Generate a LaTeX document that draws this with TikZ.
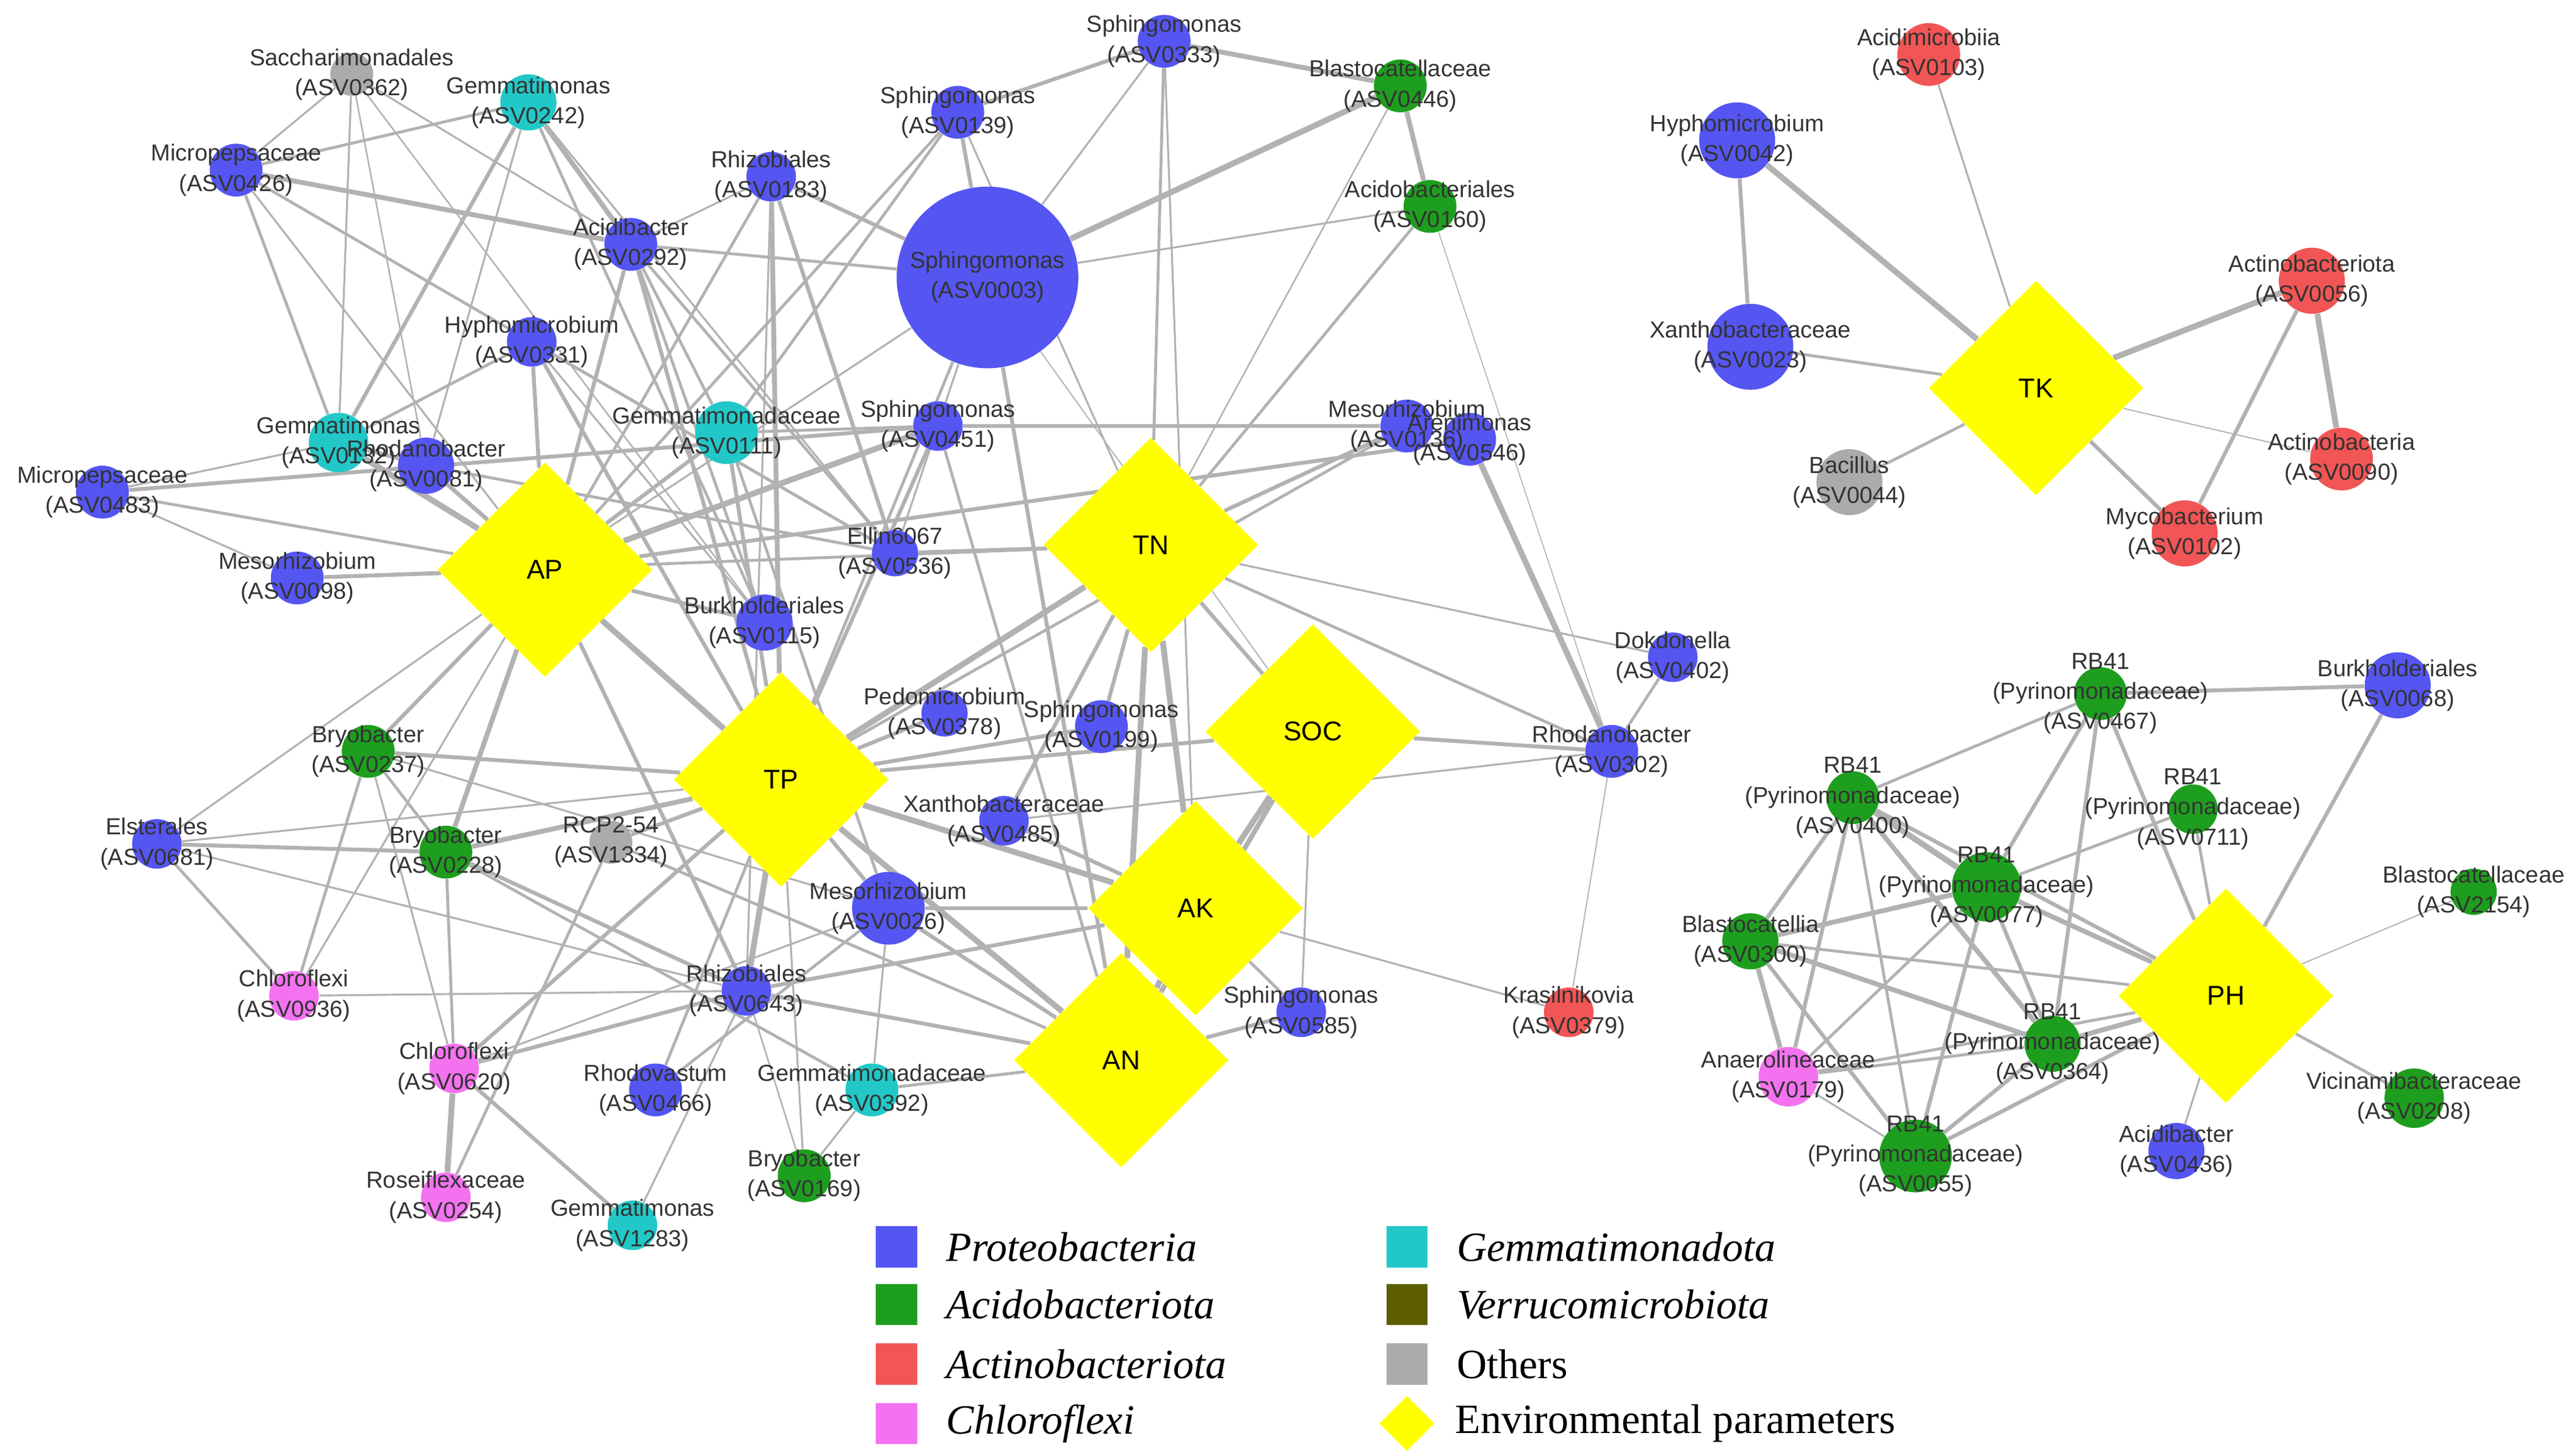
\documentclass[tikz,border=0pt]{standalone}
\usepackage{fontspec}
\setmainfont{Liberation Serif}
\newfontfamily\lab{Liberation Sans}
\usetikzlibrary{shapes.geometric,backgrounds}
\definecolor{proteo}{HTML}{5555F2}
\definecolor{acido}{HTML}{1E9E1E}
\definecolor{actino}{HTML}{F25555}
\definecolor{chloro}{HTML}{F472F0}
\definecolor{gemma}{HTML}{22C8C8}
\definecolor{verru}{HTML}{5E5E00}
\definecolor{other}{HTML}{ABABAB}
\definecolor{envi}{HTML}{FFFF00}
\tikzset{
  tax/.style={circle,draw=none,inner sep=0pt,minimum size=#1},
  tax/.default=28,
  env/.style={diamond,fill=envi,inner sep=0pt,minimum size=130*0.3mm,font=\lab\fontsize{14}{16}\selectfont},
  lbl/.style={align=center,font=\lab\fontsize{12}{15.5}\selectfont,text=black!80,inner sep=0pt},
  edge/.style={draw=black!30},
  key/.style={minimum size=7.5mm,inner sep=0pt},
  keytext/.style={anchor=west,font=\fontsize{21.5}{25}\selectfont}
}
\begin{document}
\begin{tikzpicture}[x=0.3mm,y=-0.3mm]
\useasboundingbox (0,0) rectangle (1560,881);
% taxa: name / x / y / colour / size
\foreach \n/\x/\y/\c/\s in {
  s0362/213/45/other/26, g0242/320/62/gemma/34, m0426/143/103/proteo/32,
  r0183/467/107/proteo/30, s0139/580/68/proteo/32, s0333/705/25/proteo/32,
  b0446/848/52/acido/32, a0160/866/125/acido/32, a0292/382/148/proteo/32,
  h0331/322/207/proteo/30, g0132/205/268/gemma/36, r0081/258/282/proteo/34,
  g0111/440/262/gemma/38, s0451/568/258/proteo/30, m0136/852/258/proteo/32,
  a0546/890/266/proteo/32, m0483/62/298/proteo/32, m0098/180/350/proteo/32,
  e0536/542/335/proteo/28, b0115/463/377/proteo/34, d0402/1013/398/proteo/30,
  r0302/976/455/proteo/32, p0378/572/432/proteo/28, s0199/667/440/proteo/32,
  b0237/223/455/acido/32, x0485/608/497/proteo/30, e0681/95/511/proteo/30,
  b0228/270/516/acido/32, r1334/370/510/other/26, m0026/538/550/proteo/44,
  c0936/178/603/chloro/30, r0643/452/600/proteo/30, s0585/788/613/proteo/30,
  k0379/950/613/actino/30, c0620/275/647/chloro/30, r0466/397/660/proteo/32,
  g0392/528/660/gemma/32, b0169/487/712/acido/32, r0254/270/725/chloro/30,
  g1283/383/742/gemma/30,
  a0103/1168/33/actino/38, h0042/1052/85/proteo/46, x0023/1060/210/proteo/52,
  b0044/1120/292/other/40, a0056/1400/170/actino/40, a0090/1418/278/actino/38,
  m0102/1323/323/actino/40,
  r0467/1272/420/acido/32, b0068/1452/415/proteo/40, r0400/1122/483/acido/32,
  r0711/1328/490/acido/30, r0077/1203/537/acido/42, b2154/1498/540/acido/28,
  b0300/1060/570/acido/34, r0364/1243/632/acido/34, an0179/1083/652/chloro/36,
  v0208/1462/665/acido/36, r0055/1160/700/acido/44, a0436/1318/697/proteo/34}
  \node[tax=\s*0.3mm,fill=\c] (\n) at (\x,\y) {};
\node[tax=110*0.3mm,fill=proteo] (s0003) at (598,168) {};
% environmental parameters
\node[env] (AP) at (330,345) {AP};
\node[env] (TN) at (697,330) {TN};
\node[env] (SOC) at (795,443) {SOC};
\node[env] (TP) at (473,472) {TP};
\node[env] (AK) at (724,550) {AK};
\node[env] (AN) at (679,642) {AN};
\node[env] (TK) at (1233,235) {TK};
\node[env] (PH) at (1348,603) {PH};
% connectors
\begin{scope}[on background layer]
\foreach \a/\b/\w in {
  s0362/a0292/1, s0362/g0132/1, s0362/b0115/0.8, s0362/m0426/1, s0362/r0081/0.8,
  g0242/a0292/2.5, g0242/g0132/2, g0242/b0115/1.5, g0242/e0536/1, g0242/m0426/1.5, g0242/r0081/1,
  m0426/a0292/2.5, m0426/g0132/1.5, m0426/e0536/1.5, m0426/AP/1,
  a0292/s0003/1.5, a0292/AP/2, a0292/TP/2, a0292/g0111/1.5, a0292/b0115/1.5, a0292/e0536/1.5, a0292/r0183/1,
  r0183/s0003/2, r0183/TP/2.5, r0183/AP/1.5, r0183/e0536/2, r0183/r0643/1,
  s0139/s0333/2, s0139/s0003/2, s0139/g0111/1.5, s0139/AP/1.5, s0139/TN/1,
  s0333/b0446/2.5, s0333/TN/1.5, s0333/s0003/1, s0333/AK/1,
  b0446/s0003/3, b0446/a0160/2.5, b0446/TN/0.8, a0160/s0003/1, a0160/TN/1.5, a0160/r0302/0.5,
  s0003/AN/2, s0003/TP/1.5, s0003/SOC/0.6, s0003/e0536/1, s0003/AP/1,
  h0331/TP/2, h0331/AP/2, h0331/g0132/1.5, h0331/e0536/1.5, h0331/b0115/1,
  g0132/AP/3, g0132/r0081/2, g0132/m0483/1, g0111/TP/2, g0111/AP/2, g0111/m0026/1.5, g0111/s0451/1.5,
  r0081/TP/2, r0081/e0536/1.5, r0081/AP/2,
  s0451/AP/3, s0451/TP/2, s0451/m0136/2, s0451/AN/1.5, s0451/m0483/2,
  m0136/TN/2, a0546/AP/2, a0546/r0302/3, m0136/TP/1.5,
  m0483/AP/1.5, m0483/m0098/1, m0098/TN/1.5, m0098/AP/2,
  AP/TP/3, AP/b0115/2, AP/b0237/2, AP/b0228/2.5, AP/c0936/1, AP/r0643/2, AP/e0681/1,
  TN/TP/3, TN/SOC/2, TN/AK/3, TN/AN/3, TN/d0402/1, TN/r0302/1.5, TN/e0536/2, TN/s0199/2, TN/x0485/2,
  SOC/AK/3, SOC/AN/2.5, SOC/r0302/2, SOC/TP/2, SOC/s0585/1,
  TP/AK/3, TP/AN/3, TP/b0237/2, TP/b0228/2.5, TP/r1334/2, TP/r0643/3, TP/m0026/2, TP/p0378/2, TP/s0199/2,
  TP/c0620/2, TP/r0466/1.5, TP/e0681/1, TP/b0169/1,
  AK/AN/3, AK/r0643/2, AK/m0026/2, AK/x0485/2, AK/s0585/1.5, AK/k0379/1,
  AN/r0643/2, AN/m0026/2, AN/s0585/2, AN/g0392/1.5, AN/r1334/1.5,
  r0302/d0402/1.5, r0302/x0485/1, r0302/k0379/0.6,
  b0237/c0936/1.5, b0237/b0228/1.5, b0237/c0620/1, b0237/m0026/1,
  e0681/b0228/2, e0681/c0936/1.5, e0681/r0643/1,
  b0228/r0643/2, b0228/g0392/1.5, b0228/c0620/1.5, r1334/r0254/1.5,
  c0936/r0643/1, c0620/r0643/2, c0620/r0254/3, c0620/g1283/2, c0620/m0026/1,
  r0466/m0026/1.5, g0392/b0169/1, g0392/m0026/1, b0169/r0643/0.8, g1283/r0643/1,
  a0103/TK/1, h0042/TK/3, h0042/x0023/2, x0023/TK/1.5, b0044/TK/1.5,
  a0056/TK/3, a0056/a0090/3, a0056/m0102/2, m0102/TK/2, a0090/TK/0.6,
  r0467/b0068/2, r0467/r0400/1.5, r0467/r0077/2, r0467/r0364/2, r0467/PH/2,
  b0068/PH/2, r0400/r0077/3, r0400/b0300/2, r0400/r0364/2.5, r0400/an0179/2, r0400/PH/2, r0400/r0055/1.5,
  r0711/PH/1.5, r0711/r0077/1.5, r0077/b0300/2.5, r0077/PH/2.5, r0077/r0364/2, r0077/an0179/1.5, r0077/r0055/2,
  b2154/PH/0.6, b0300/an0179/2.5, b0300/r0364/2.5, b0300/r0055/2, b0300/PH/1.5,
  r0364/PH/2.5, r0364/an0179/1.5, r0364/r0055/2, an0179/PH/1.5, an0179/r0055/1,
  v0208/PH/1.5, r0055/PH/2, a0436/PH/1}
  \draw[edge,line width=\w pt] (\a) -- (\b);
\end{scope}
% labels
\foreach \n/\t in {
  s0362/{Saccharimonadales\\(ASV0362)}, g0242/{Gemmatimonas\\(ASV0242)}, m0426/{Micropepsaceae\\(ASV0426)},
  r0183/{Rhizobiales\\(ASV0183)}, s0139/{Sphingomonas\\(ASV0139)}, s0333/{Sphingomonas\\(ASV0333)},
  b0446/{Blastocatellaceae\\(ASV0446)}, a0160/{Acidobacteriales\\(ASV0160)}, a0292/{Acidibacter\\(ASV0292)},
  h0331/{Hyphomicrobium\\(ASV0331)}, g0132/{Gemmatimonas\\(ASV0132)}, r0081/{Rhodanobacter\\(ASV0081)},
  g0111/{Gemmatimonadaceae\\(ASV0111)}, s0451/{Sphingomonas\\(ASV0451)}, m0136/{Mesorhizobium\\(ASV0136)},
  a0546/{Arenimonas\\(ASV0546)}, m0483/{Micropepsaceae\\(ASV0483)}, m0098/{Mesorhizobium\\(ASV0098)},
  e0536/{Ellin6067\\(ASV0536)}, b0115/{Burkholderiales\\(ASV0115)}, d0402/{Dokdonella\\(ASV0402)},
  r0302/{Rhodanobacter\\(ASV0302)}, p0378/{Pedomicrobium\\(ASV0378)}, s0199/{Sphingomonas\\(ASV0199)},
  b0237/{Bryobacter\\(ASV0237)}, x0485/{Xanthobacteraceae\\(ASV0485)}, e0681/{Elsterales\\(ASV0681)},
  b0228/{Bryobacter\\(ASV0228)}, r1334/{RCP2-54\\(ASV1334)}, m0026/{Mesorhizobium\\(ASV0026)},
  c0936/{Chloroflexi\\(ASV0936)}, r0643/{Rhizobiales\\(ASV0643)}, s0585/{Sphingomonas\\(ASV0585)},
  k0379/{Krasilnikovia\\(ASV0379)}, c0620/{Chloroflexi\\(ASV0620)}, r0466/{Rhodovastum\\(ASV0466)},
  g0392/{Gemmatimonadaceae\\(ASV0392)}, b0169/{Bryobacter\\(ASV0169)}, r0254/{Roseiflexaceae\\(ASV0254)},
  g1283/{Gemmatimonas\\(ASV1283)}, s0003/{Sphingomonas\\(ASV0003)},
  a0103/{Acidimicrobiia\\(ASV0103)}, h0042/{Hyphomicrobium\\(ASV0042)}, x0023/{Xanthobacteraceae\\(ASV0023)},
  b0044/{Bacillus\\(ASV0044)}, a0056/{Actinobacteriota\\(ASV0056)}, a0090/{Actinobacteria\\(ASV0090)},
  m0102/{Mycobacterium\\(ASV0102)}, r0467/{RB41\\(Pyrinomonadaceae)\\(ASV0467)}, b0068/{Burkholderiales\\(ASV0068)},
  r0400/{RB41\\(Pyrinomonadaceae)\\(ASV0400)}, r0711/{RB41\\(Pyrinomonadaceae)\\(ASV0711)},
  r0077/{RB41\\(Pyrinomonadaceae)\\(ASV0077)}, b2154/{Blastocatellaceae\\(ASV2154)},
  b0300/{Blastocatellia\\(ASV0300)}, r0364/{RB41\\(Pyrinomonadaceae)\\(ASV0364)},
  an0179/{Anaerolineaceae\\(ASV0179)}, v0208/{Vicinamibacteraceae\\(ASV0208)},
  r0055/{RB41\\(Pyrinomonadaceae)\\(ASV0055)}, a0436/{Acidibacter\\(ASV0436)}}
  \node[lbl] at (\n) {\t};
% legend
\foreach \c/\t/\y in {proteo/Proteobacteria/755, acido/Acidobacteriota/790, actino/Actinobacteriota/826, chloro/Chloroflexi/862}{
  \node[key,fill=\c] (k\c) at (543,\y) {};
  \node[keytext] at ([xshift=4mm]k\c.east) {\itshape\t};}
\foreach \c/\t/\y in {gemma/Gemmatimonadota/755, verru/Verrucomicrobiota/790}{
  \node[key,fill=\c] (k\c) at (852,\y) {};
  \node[keytext] at ([xshift=4mm]k\c.east) {\itshape\t};}
\node[key,fill=other] (kother) at (852,826) {};
\node[keytext] at ([xshift=4mm]kother.east) {Others};
\node[diamond,fill=envi,minimum size=10mm,inner sep=0pt] (kenv) at (852,862) {};
\node[keytext] at ([xshift=2.5mm]kenv.east) {Environmental parameters};
\end{tikzpicture}
\end{document}
